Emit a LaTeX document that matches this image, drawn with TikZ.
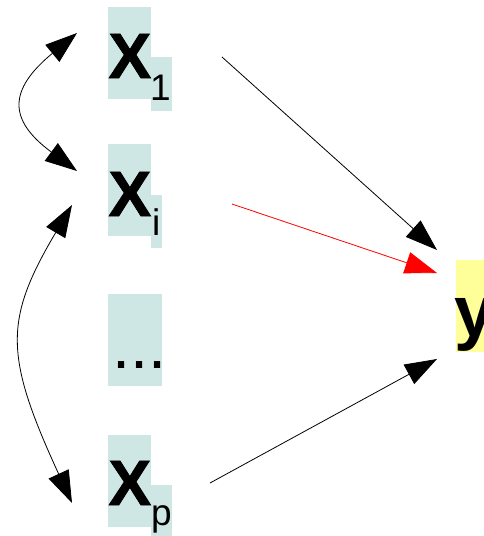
\documentclass[tikz,border=0pt]{standalone}
\usepackage{fontspec}
\setmainfont{Liberation Sans}
\usetikzlibrary{arrows.meta}
\definecolor{boxteal}{RGB}{207,231,228}
\definecolor{boxyellow}{RGB}{255,255,153}
\tikzset{
  px/.style={x=1pt,y=-1pt},
  bgbox/.style={draw=none,inner sep=0,outer sep=0,anchor=north west},
  bigtxt/.style={inner sep=0,outer sep=0,anchor=base west,font=\bfseries\fontsize{64}{64}\selectfont\addfontfeature{FakeBold=1.3}},
  subtxt/.style={inner sep=0,outer sep=0,anchor=base west,font=\fontsize{37}{37}\selectfont},
  conn/.style={line width=0.8pt,-{Triangle[length=32pt,width=22pt]}},
  dconn/.style={line width=0.8pt,{Triangle[length=32pt,width=22pt]}-{Triangle[length=32pt,width=22pt]}}
}
\begin{document}
\begin{tikzpicture}[px]
\useasboundingbox (0,0) rectangle (484,536);
% boxes
\node[bgbox,fill=boxteal,minimum width=43pt,minimum height=92pt] (b1) at (108,7) {};
\node[bgbox,fill=boxteal,minimum width=21pt,minimum height=54pt] (b1s) at (151,57) {};
\node[bgbox,fill=boxteal,minimum width=43pt,minimum height=92pt] (bi) at (108,144) {};
\node[bgbox,fill=boxteal,minimum width=11pt,minimum height=53pt] (bis) at (151,195) {};
\node[bgbox,fill=boxteal,minimum width=54pt,minimum height=92pt] (bd) at (108,294) {};
\node[bgbox,fill=boxteal,minimum width=43pt,minimum height=92pt] (bp) at (108,435) {};
\node[bgbox,fill=boxteal,minimum width=21pt,minimum height=60pt] (bps) at (151,485) {};
\node[bgbox,fill=boxyellow,minimum width=30pt,minimum height=92pt] (by) at (456,260) {};
% texts
\node[bigtxt] (x1) at (108.5,78) {X};
\node[subtxt] (s1) at (150,100) {1};
\node[bigtxt] (xi) at (108.5,216) {X};
\node[subtxt] (si) at (152,235) {i};
\node[subtxt,font=\fontsize{65}{65}\selectfont] (dots) at (112,368) {...};
\node[bigtxt] (xp) at (108.5,505) {X};
\node[subtxt] (sp) at (151,525) {p};
\node[bigtxt,font=\bfseries\fontsize{72}{72}\selectfont] (ty) at (454,336) {y};
% connector ends
\coordinate (a1) at (222,57);
\coordinate (ai) at (232,204);
\coordinate (ap) at (210,483);
\coordinate (t1) at (437,250);
\coordinate (ti) at (437,273);
\coordinate (tp) at (437,359);
\coordinate (l1) at (77,33);
\coordinate (l2) at (77,171);
\coordinate (l3) at (72,205);
\coordinate (l4) at (72,503);
% arrows
\draw[conn] (a1) -- (t1);
\draw[conn,red] (ai) -- (ti);
\draw[conn] (ap) -- (tp);
\draw[dconn] (l1) .. controls (8,90) and (8,120) .. (l2);
\draw[dconn] (l3) .. controls (4,320) and (4,355) .. (l4);
\end{tikzpicture}
\end{document}
